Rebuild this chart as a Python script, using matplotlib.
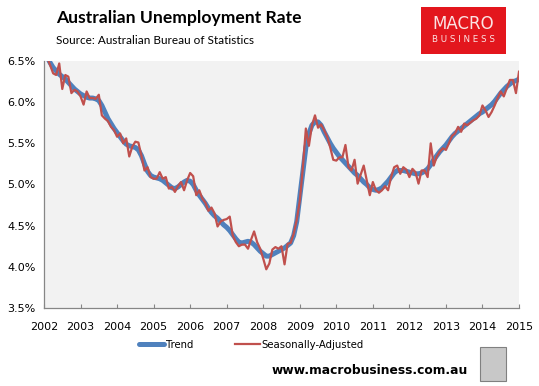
import numpy as np
import matplotlib
matplotlib.use("Agg")
import matplotlib.pyplot as plt
from matplotlib.patches import Rectangle

# monthly data, Jan 2002 .. Jan 2015 (per cent)
trend = [
    6.62, 6.55, 6.48, 6.42, 6.38, 6.34, 6.31, 6.28, 6.24, 6.20, 6.16, 6.13,  # 2002
    6.10, 6.08, 6.06, 6.05, 6.05, 6.04, 6.02, 5.96, 5.88, 5.80, 5.74, 5.68,  # 2003
    5.63, 5.58, 5.53, 5.49, 5.47, 5.46, 5.45, 5.42, 5.35, 5.25, 5.16, 5.11,  # 2004
    5.09, 5.08, 5.07, 5.05, 5.02, 4.99, 4.96, 4.95, 4.97, 5.00, 5.03, 5.05,  # 2005
    5.04, 5.00, 4.93, 4.87, 4.82, 4.77, 4.71, 4.66, 4.62, 4.59, 4.55, 4.51,  # 2006
    4.48, 4.44, 4.39, 4.34, 4.30, 4.29, 4.30, 4.31, 4.30, 4.27, 4.23, 4.19,  # 2007
    4.16, 4.13, 4.13, 4.15, 4.17, 4.19, 4.21, 4.23, 4.26, 4.29, 4.38, 4.55,  # 2008
    4.85, 5.15, 5.45, 5.62, 5.72, 5.76, 5.76, 5.72, 5.64, 5.57, 5.50, 5.44,  # 2009
    5.39, 5.34, 5.30, 5.26, 5.22, 5.18, 5.14, 5.11, 5.07, 5.03, 5.00, 4.96,  # 2010
    4.94, 4.93, 4.94, 4.96, 5.00, 5.04, 5.09, 5.14, 5.17, 5.17, 5.17, 5.16,  # 2011
    5.15, 5.14, 5.13, 5.13, 5.14, 5.16, 5.19, 5.24, 5.30, 5.35, 5.40, 5.44,  # 2012
    5.48, 5.53, 5.58, 5.62, 5.65, 5.68, 5.71, 5.74, 5.77, 5.80, 5.83, 5.86,  # 2013
    5.88, 5.91, 5.94, 5.97, 6.01, 6.06, 6.11, 6.15, 6.19, 6.22, 6.25, 6.26,  # 2014
    6.28,                                                                    # 2015
]
seas_adj = [
    6.65, 6.55, 6.45, 6.35, 6.33, 6.47, 6.16, 6.33, 6.31, 6.11, 6.15, 6.13,  # 2002
    6.07, 5.97, 6.13, 6.05, 6.05, 6.04, 6.09, 5.84, 5.80, 5.77, 5.70, 5.66,  # 2003
    5.58, 5.62, 5.50, 5.56, 5.34, 5.46, 5.52, 5.51, 5.35, 5.17, 5.21, 5.09,  # 2004
    5.07, 5.07, 5.15, 5.07, 5.09, 4.95, 4.97, 4.91, 4.98, 5.03, 4.93, 5.05,  # 2005
    5.14, 5.10, 4.87, 4.93, 4.83, 4.78, 4.68, 4.72, 4.65, 4.49, 4.55, 4.57,  # 2006
    4.58, 4.61, 4.38, 4.30, 4.25, 4.27, 4.27, 4.22, 4.33, 4.43, 4.30, 4.22,  # 2007
    4.10, 3.97, 4.04, 4.21, 4.24, 4.22, 4.25, 4.03, 4.28, 4.29, 4.40, 4.57,  # 2008
    4.80, 5.20, 5.68, 5.47, 5.72, 5.84, 5.69, 5.73, 5.66, 5.58, 5.45, 5.30,  # 2009
    5.29, 5.33, 5.33, 5.48, 5.21, 5.17, 5.30, 5.01, 5.12, 5.23, 5.05, 4.87,  # 2010
    5.03, 4.93, 4.90, 4.93, 4.98, 4.93, 5.09, 5.21, 5.23, 5.13, 5.21, 5.18,  # 2011
    5.09, 5.19, 5.15, 5.01, 5.17, 5.17, 5.09, 5.50, 5.23, 5.34, 5.40, 5.44,  # 2012
    5.42, 5.50, 5.59, 5.62, 5.70, 5.64, 5.74, 5.72, 5.75, 5.78, 5.80, 5.84,  # 2013
    5.96, 5.90, 5.82, 5.88, 5.96, 6.05, 6.13, 6.07, 6.17, 6.27, 6.27, 6.11,  # 2014
    6.37,                                                                    # 2015
]
years = list(range(2002, 2016))
y_ticks = [3.5, 4.0, 4.5, 5.0, 5.5, 6.0, 6.5]

t = 2002 + np.arange(len(trend)) / 12.0

fig = plt.figure(figsize=(5.39, 3.86), dpi=100)
ax = fig.add_axes([44 / 539, 1 - 308 / 386, 475 / 539, 247 / 386])
ax.set_facecolor("#f2f2f2")

ax.plot(t, trend, color="#4f81bd", lw=3.6, solid_capstyle="round", label="Trend")
ax.plot(t, seas_adj, color="#c0504d", lw=1.6, label="Seasonally-Adjusted")

ax.set_xlim(2002, 2015)
ax.set_ylim(3.5, 6.5)
ax.set_xticks(years)
ax.set_xticklabels([str(y) for y in years], fontsize=8)
ax.set_yticks(y_ticks)
ax.set_yticklabels([f"{v:.1f}%" for v in y_ticks], fontsize=8)
ax.tick_params(axis="x", direction="in", length=3, color="#868686", pad=10)
ax.tick_params(axis="y", length=0, pad=6)
for s in ["top", "right"]:
    ax.spines[s].set_visible(False)
for s in ["left", "bottom"]:
    ax.spines[s].set_color("#868686")
    ax.spines[s].set_linewidth(0.9)

leg = fig.legend(loc="center", bbox_to_anchor=(0.466, 1 - 345 / 386), ncol=2,
                 frameon=False, fontsize=7.3, handlelength=2.5, handletextpad=0.15,
                 columnspacing=4.1)

# title block
fig.text(56 / 539, 1 - 18 / 386, "Australian Unemployment Rate", fontsize=12.6,
         fontweight="bold", family="Lato", va="center")
fig.text(56 / 539, 1 - 41 / 386, "Source: Australian Bureau of Statistics",
         fontsize=8.5, family="Lato", va="center")

# MacroBusiness logo box
fig.patches.append(Rectangle((421 / 539, 1 - 54 / 386), 85 / 539, 47 / 386,
                             transform=fig.transFigure, facecolor="#e3161d",
                             edgecolor="none"))
fig.text(463 / 539, 1 - 24 / 386, "MACRO", fontsize=12, color="#fbe3e3",
         ha="center", va="center", family="DejaVu Sans")
fig.text(463 / 539, 1 - 40 / 386, "B U S I N E S S", fontsize=6.3, color="#fbe3e3",
         ha="center", va="center", family="DejaVu Sans")

# footer
fig.text(370 / 539, 1 - 371 / 386, "www.macrobusiness.com.au", fontsize=8.8,
         fontweight="bold", ha="center", va="center", family="DejaVu Sans")
fig.patches.append(Rectangle((480 / 539, 1 - 381 / 386), 26 / 539, 34 / 386,
                             transform=fig.transFigure, facecolor="#c8c8c8",
                             edgecolor="#808080", lw=0.8))

fig.savefig("out.png", dpi=100)
